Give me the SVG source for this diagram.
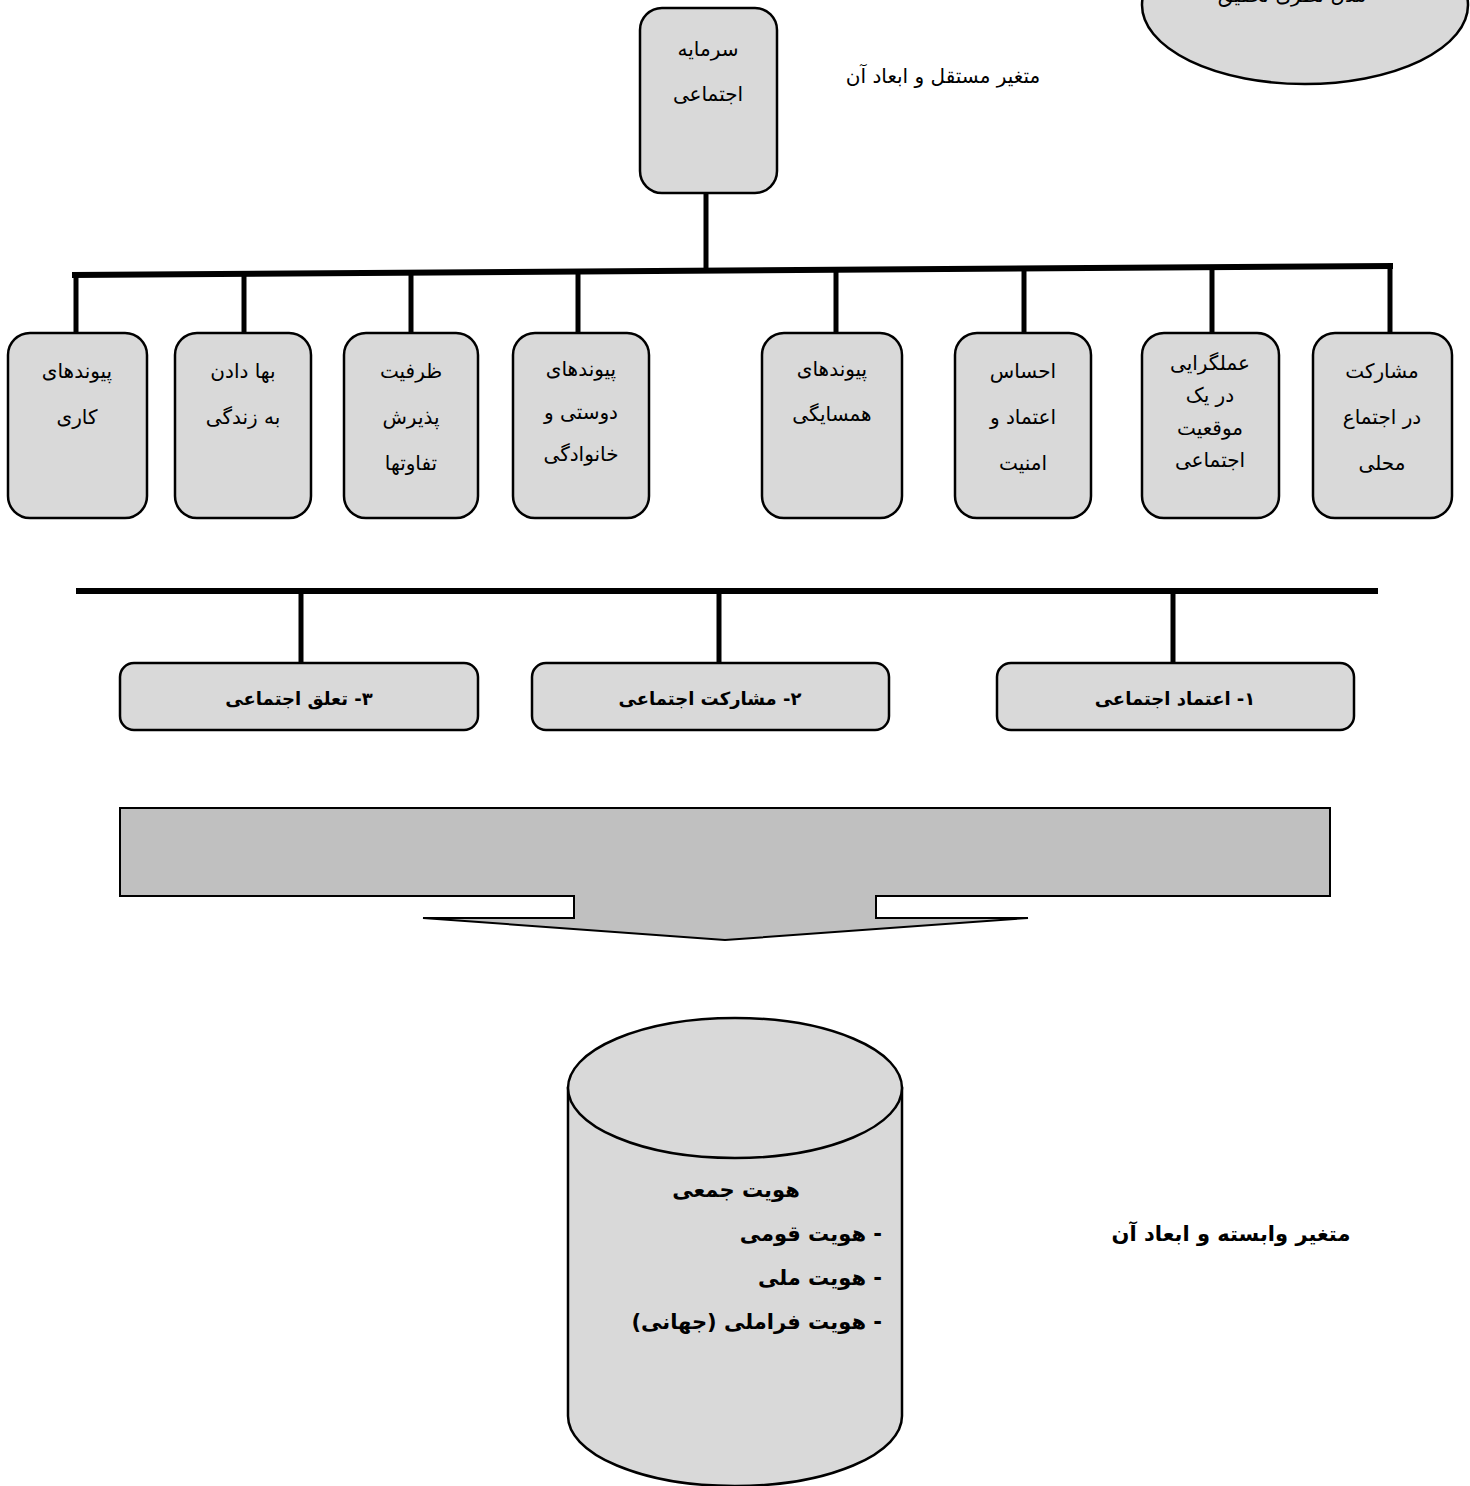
<svg xmlns="http://www.w3.org/2000/svg" width="1470" height="1486" viewBox="0 0 1470 1486">
<style>
.box{fill:#d9d9d9;stroke:#000;stroke-width:2.5}
.t{font-family:"DejaVu Sans",sans-serif;font-size:20px;fill:#000;text-anchor:middle}
.b{font-family:"DejaVu Sans",sans-serif;font-size:18px;font-weight:bold;fill:#000;text-anchor:middle}
.c{stroke:#000;fill:none}
</style>
<rect width="1470" height="1486" fill="#fff"/>
<g id="ellipse-top">
<ellipse class="box" cx="1305" cy="5" rx="163" ry="79"/>
<text class="t" x="1292" y="2" direction="rtl">مدل نظری تحقیق</text>
</g>
<g id="connectors">
<line class="c" x1="706" y1="193" x2="706" y2="271" stroke-width="5"/>
<line class="c" x1="72" y1="275" x2="1393" y2="266" stroke-width="6"/>
<g stroke-width="5" class="c">
<line x1="76" y1="273" x2="76" y2="333"/>
<line x1="244" y1="272" x2="244" y2="333"/>
<line x1="411" y1="271" x2="411" y2="333"/>
<line x1="578" y1="270" x2="578" y2="333"/>
<line x1="836" y1="270" x2="836" y2="333"/>
<line x1="1024" y1="269" x2="1024" y2="333"/>
<line x1="1212" y1="268" x2="1212" y2="333"/>
<line x1="1390" y1="266" x2="1390" y2="333"/>
</g>
<line class="c" x1="76" y1="591" x2="1378" y2="591" stroke-width="6"/>
<g stroke-width="5" class="c">
<line x1="301" y1="591" x2="301" y2="663"/>
<line x1="719" y1="591" x2="719" y2="663"/>
<line x1="1173" y1="591" x2="1173" y2="663"/>
</g>
</g>
<g id="node-sarmaye">
<rect class="box" x="640" y="8" width="137" height="185" rx="22"/>
<text class="t" x="708" y="56" direction="rtl">سرمایه</text>
<text class="t" x="708" y="101" direction="rtl">اجتماعی</text>
</g>
<text class="t" x="943" y="83" direction="rtl">متغیر مستقل و ابعاد آن</text>
<g id="node-1">
<rect class="box" x="8" y="333" width="139" height="185" rx="22"/>
<text class="t" x="77" y="378" direction="rtl">پیوندهای</text>
<text class="t" x="77" y="424" direction="rtl">کاری</text>
</g>
<g id="node-2">
<rect class="box" x="175" y="333" width="136" height="185" rx="22"/>
<text class="t" x="243" y="378" direction="rtl">بها دادن</text>
<text class="t" x="243" y="424" direction="rtl">به زندگی</text>
</g>
<g id="node-3">
<rect class="box" x="344" y="333" width="134" height="185" rx="22"/>
<text class="t" x="411" y="378" direction="rtl">ظرفیت</text>
<text class="t" x="411" y="424" direction="rtl">پذیرش</text>
<text class="t" x="411" y="470" direction="rtl">تفاوتها</text>
</g>
<g id="node-4">
<rect class="box" x="513" y="333" width="136" height="185" rx="22"/>
<text class="t" x="581" y="376" direction="rtl">پیوندهای</text>
<text class="t" x="581" y="419" direction="rtl">دوستی و</text>
<text class="t" x="581" y="461" direction="rtl">خانوادگی</text>
</g>
<g id="node-5">
<rect class="box" x="762" y="333" width="140" height="185" rx="22"/>
<text class="t" x="832" y="376" direction="rtl">پیوندهای</text>
<text class="t" x="832" y="421" direction="rtl">همسایگی</text>
</g>
<g id="node-6">
<rect class="box" x="955" y="333" width="136" height="185" rx="22"/>
<text class="t" x="1023" y="378" direction="rtl">احساس</text>
<text class="t" x="1023" y="424" direction="rtl">اعتماد و</text>
<text class="t" x="1023" y="470" direction="rtl">امنیت</text>
</g>
<g id="node-7">
<rect class="box" x="1142" y="333" width="137" height="185" rx="22"/>
<text class="t" x="1210" y="370" direction="rtl">عملگرایی</text>
<text class="t" x="1210" y="402" direction="rtl">در یک</text>
<text class="t" x="1210" y="435" direction="rtl">موقعیت</text>
<text class="t" x="1210" y="467" direction="rtl">اجتماعی</text>
</g>
<g id="node-8">
<rect class="box" x="1313" y="333" width="139" height="185" rx="22"/>
<text class="t" x="1382" y="378" direction="rtl">مشارکت</text>
<text class="t" x="1382" y="424" direction="rtl">در اجتماع</text>
<text class="t" x="1382" y="470" direction="rtl">محلی</text>
</g>
<g id="node-dim3">
<rect class="box" x="120" y="663" width="358" height="67" rx="14"/>
<text class="b" x="299" y="705" direction="rtl">۳- تعلق اجتماعی</text>
</g>
<g id="node-dim2">
<rect class="box" x="532" y="663" width="357" height="67" rx="14"/>
<text class="b" x="710" y="705" direction="rtl">۲- مشارکت اجتماعی</text>
</g>
<g id="node-dim1">
<rect class="box" x="997" y="663" width="357" height="67" rx="14"/>
<text class="b" x="1175" y="705" direction="rtl">۱- اعتماد اجتماعی</text>
</g>
<g id="arrow">
<polygon points="120,808 1330,808 1330,896 876,896 876,918 1028,918 725,940 423,918 574,918 574,896 120,896" fill="#c0c0c0" stroke="#000" stroke-width="2"/>
</g>
<g id="cylinder">
<path class="box" d="M568,1088 L568,1416 A167,70 0 0 0 902,1416 L902,1088 Z"/>
<ellipse class="box" cx="735" cy="1088" rx="167" ry="70"/>
<text class="b" x="736" y="1197" direction="rtl" style="font-size:21px">هویت جمعی</text>
<text class="b" x="882" y="1241" direction="rtl" style="font-size:21px;text-anchor:start">- هویت قومی</text>
<text class="b" x="882" y="1285" direction="rtl" style="font-size:21px;text-anchor:start">- هویت ملی</text>
<text class="b" x="882" y="1329" direction="rtl" style="font-size:21px;text-anchor:start">- هویت فراملی (جهانی)</text>
</g>
<text class="b" x="1231" y="1241" direction="rtl" style="font-size:21px">متغیر وابسته و ابعاد آن</text>
</svg>
